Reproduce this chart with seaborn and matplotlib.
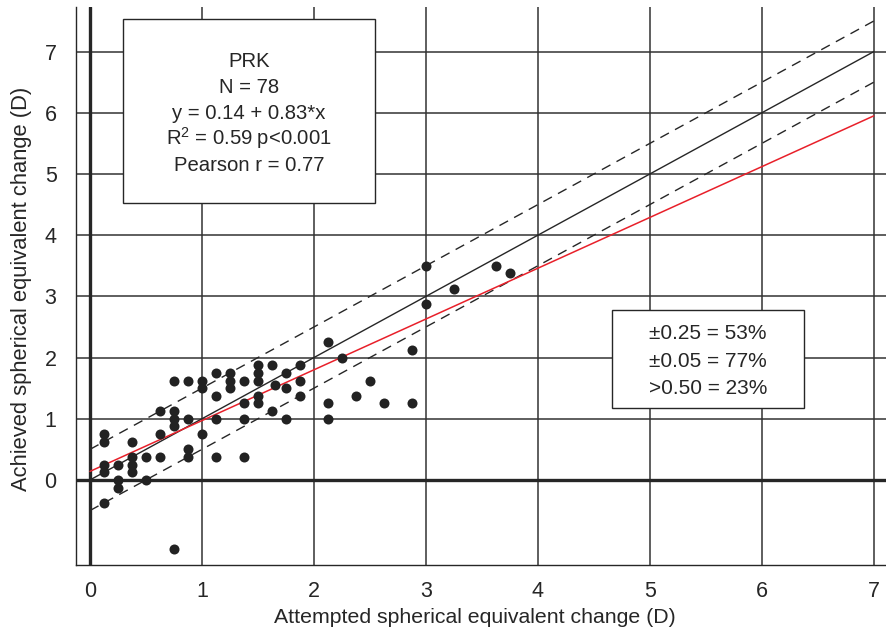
import matplotlib
matplotlib.use("Agg")
import matplotlib.pyplot as plt
from matplotlib.patches import Rectangle
import numpy as np
import pandas as pd
import seaborn as sns

# ---- data ----
attempted = [0.125, 0.125, 0.125, 0.125, 0.125,
             0.25, 0.25, 0.25,
             0.375, 0.375, 0.375, 0.375,
             0.5, 0.5,
             0.625, 0.625, 0.625,
             0.75, 0.75, 0.75, 0.75, 0.75,
             0.875, 0.875, 0.875, 0.875,
             1.0, 1.0, 1.0,
             1.125, 1.125, 1.125, 1.125,
             1.25, 1.25, 1.25,
             1.375, 1.375, 1.375, 1.375,
             1.5, 1.5, 1.5, 1.5, 1.5,
             1.625, 1.65, 1.625,
             1.75, 1.75, 1.75,
             1.875, 1.875, 1.875,
             2.125, 2.125, 2.125,
             2.25, 2.375, 2.5, 2.625, 2.875, 2.875,
             3.0, 3.0, 3.25, 3.625, 3.75]
achieved = [0.75, 0.625, 0.25, 0.125, -0.375,
            0.25, 0.0, -0.125,
            0.625, 0.375, 0.25, 0.125,
            0.375, 0.0,
            1.125, 0.75, 0.375,
            1.625, 1.125, 1.0, 0.875, -1.125,
            1.625, 1.0, 0.5, 0.375,
            1.625, 1.5, 0.75,
            1.75, 1.375, 1.0, 0.375,
            1.75, 1.625, 1.5,
            1.625, 1.25, 1.0, 0.375,
            1.875, 1.75, 1.625, 1.375, 1.25,
            1.875, 1.55, 1.125,
            1.75, 1.5, 1.0,
            1.875, 1.625, 1.375,
            2.25, 1.25, 1.0,
            2.0, 1.375, 1.625, 1.25, 2.125, 1.25,
            3.5, 2.875, 3.125, 3.5, 3.375]

fit_intercept = 0.14
fit_slope = 0.83
band = 0.5
line_x = [0, 7]

x_ticks = [0, 1, 2, 3, 4, 5, 6, 7]
y_ticks = [0, 1, 2, 3, 4, 5, 6, 7]

stats_lines = ["PRK", "N = 78", "y = 0.14 + 0.83*x", "R$^2$ = 0.59 p<0.001", "Pearson r = 0.77"]
accuracy_lines = ["±0.25 = 53%", "±0.05 = 77%", ">0.50 = 23%"]

x_label = "Attempted spherical equivalent change (D)"
y_label = "Achieved spherical equivalent change (D)"

# ---- styling ----
sns.set_theme(style="white")
plt.rcParams["font.family"] = ["Liberation Sans", "DejaVu Sans"]
plt.rcParams["mathtext.fontset"] = "custom"
plt.rcParams["mathtext.rm"] = "Liberation Sans"
plt.rcParams["mathtext.it"] = "Liberation Sans"
plt.rcParams["mathtext.default"] = "regular"
ink = "#262626"
grid_ink = "#333333"

W, H = 887, 636
fig = plt.figure(figsize=(W / 100, H / 100), dpi=100)
ax = fig.add_axes([76 / W, 71 / H, (886 - 76) / W, (629 - 71) / H])

ax.set_xlim(-0.125, 7.11)
ax.set_ylim(-1.39, 7.73)

# grid
for t in x_ticks[1:]:
    ax.axvline(t, color=grid_ink, lw=1.1, zorder=1)
for t in y_ticks[1:]:
    ax.axhline(t, color=grid_ink, lw=1.1, zorder=1)
ax.axvline(0, color=ink, lw=2.4, zorder=1)
ax.axhline(0, color=ink, lw=2.4, zorder=1)

# reference lines
lx = np.array(line_x, dtype=float)
ax.plot(lx, lx, color=ink, lw=1.0, zorder=2)
ax.plot(lx, lx + band, color=ink, lw=1.0, ls=(0, (7, 5)), zorder=2)
ax.plot(lx, lx - band, color=ink, lw=1.0, ls=(0, (7, 5)), zorder=2)
ax.plot(lx, fit_intercept + fit_slope * lx, color="#e8202a", lw=1.1, zorder=2)

# scatter
df = pd.DataFrame({"attempted": attempted, "achieved": achieved})
sns.scatterplot(data=df, x="attempted", y="achieved", ax=ax, color="#222222",
                s=52, linewidth=0, zorder=4)

# boxes
ax.add_patch(Rectangle((0.295, 4.53), 2.252, 3.0, facecolor="white",
                       edgecolor=ink, lw=1.0, zorder=3))
for i, s in enumerate(stats_lines):
    ax.text(1.42, 6.75 - i * 0.425, s, ha="center", va="baseline",
            fontsize=14.6, color=ink, zorder=5)

ax.add_patch(Rectangle((4.66, 1.18), 1.72, 1.60, facecolor="white",
                       edgecolor=ink, lw=1.0, zorder=3))
for i, s in enumerate(accuracy_lines):
    ax.text(4.99, 2.30 - i * 0.45, s, ha="left", va="baseline",
            fontsize=15.0, color=ink, zorder=5)

# axes
for side in ["top", "right"]:
    ax.spines[side].set_visible(False)
for side in ["left", "bottom"]:
    ax.spines[side].set_color(ink)
    ax.spines[side].set_linewidth(1.0)

ax.set_xticks(x_ticks)
ax.set_yticks(y_ticks)
ax.tick_params(axis="both", direction="out", length=7.5, width=1.0, color=ink,
               labelsize=15.5, labelcolor=ink)
ax.tick_params(axis="x", pad=4.0)
ax.tick_params(axis="y", pad=6.5)
ax.set_xlabel(x_label, fontsize=15.3, color=ink, labelpad=4.5)
ax.set_ylabel(y_label, fontsize=15.8, color=ink, labelpad=9.0)
ax.xaxis.label.set_x(0.492)
ax.yaxis.label.set_y(0.495)

fig.savefig("out.png", dpi=100)
